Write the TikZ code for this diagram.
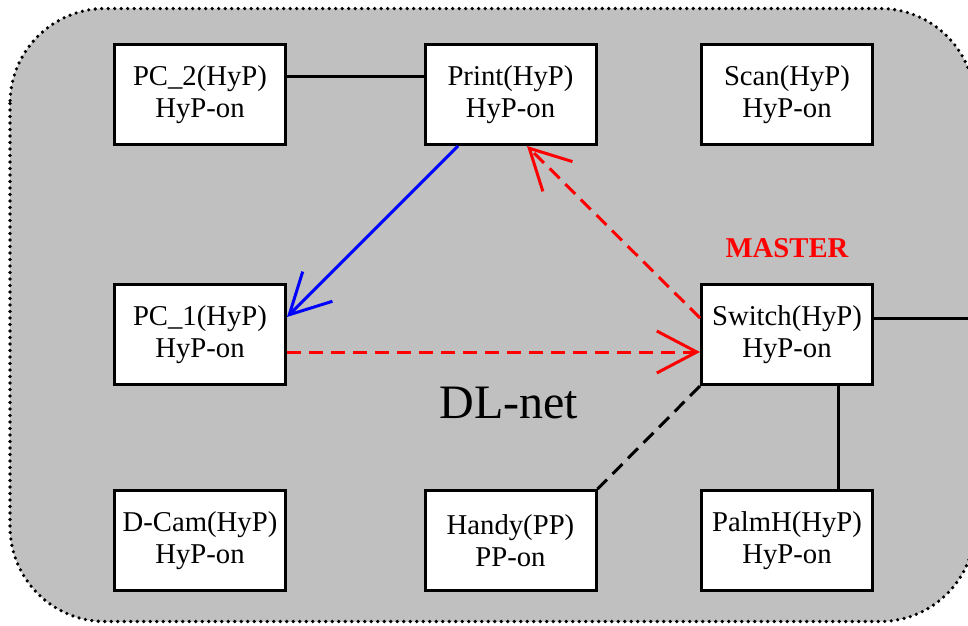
\documentclass[tikz,border=0pt]{standalone}
\usepackage{fontspec}
\setmainfont{Liberation Serif}
\usetikzlibrary{arrows.meta}
\definecolor{bggray}{RGB}{192,192,192}
\begin{document}
\begin{tikzpicture}[x=1pt,y=-1pt,
  dev/.style={draw=black, line width=3pt, fill=white, minimum width=171pt, minimum height=100pt, inner sep=0pt, align=center, font=\fontsize{28.7}{32}\selectfont},
  link/.style={line width=3pt},
  dashpat/.style={dash pattern=on 14pt off 8pt},
  tipv/.style={-{Straight Barb[length=40pt,width=42pt]}},
  lbl/.style={inner sep=0pt}
]
\useasboundingbox (0,0) rectangle (968,625);
\draw[fill=bggray, line width=3.6pt, line cap=round, dash pattern=on 0pt off 6.5pt, rounded corners=95pt] (10,8.5) rectangle (975,621.5);

\node[dev] (pc2) at (200,94.5) {PC\_2(HyP)\\HyP-on};
\node[dev] (print) at (510.5,94.5) {Print(HyP)\\HyP-on};
\node[dev] (scan) at (787,94.5) {Scan(HyP)\\HyP-on};
\node[dev] (pc1) at (200,334.5) {PC\_1(HyP)\\HyP-on};
\node[dev] (switch) at (787,334.5) {Switch(HyP)\\HyP-on};
\node[dev] (dcam) at (200,540.5) {D-Cam(HyP)\\HyP-on};
\node[dev] (handy) at (510.5,540.5) {Handy(PP)\\PP-on};
\node[dev] (palmh) at (787,540.5) {PalmH(HyP)\\HyP-on};

\node[lbl, text=red, font=\bfseries\fontsize{28.7}{32}\selectfont] (master) at (787,248) {MASTER};
\node[lbl, font=\fontsize{48}{54}\selectfont] (dlnet) at (509,403) {DL-net};

\coordinate (edge) at (975,318);

\draw[link] ([yshift=18.5pt]pc2.east) -- ([yshift=18.5pt]print.west);
\draw[link, blue, tipv] ([xshift=-52.5pt]print.south) -- ([yshift=17.5pt]pc1.east);
\draw[link, red, dashpat, tipv] ([yshift=-17.5pt]pc1.east) -- ([yshift=-17.5pt]switch.west);
\draw[link, red, dashpat, tipv] ([yshift=16.5pt]switch.west) -- ([xshift=16.5pt]print.south);
\draw[link, dashpat] (switch.south west) -- (handy.north east);
\draw[link] ([xshift=51pt]switch.south) -- ([xshift=51pt]palmh.north);
\draw[link] ([yshift=16.5pt]switch.east) -- (edge);
\end{tikzpicture}
\end{document}
